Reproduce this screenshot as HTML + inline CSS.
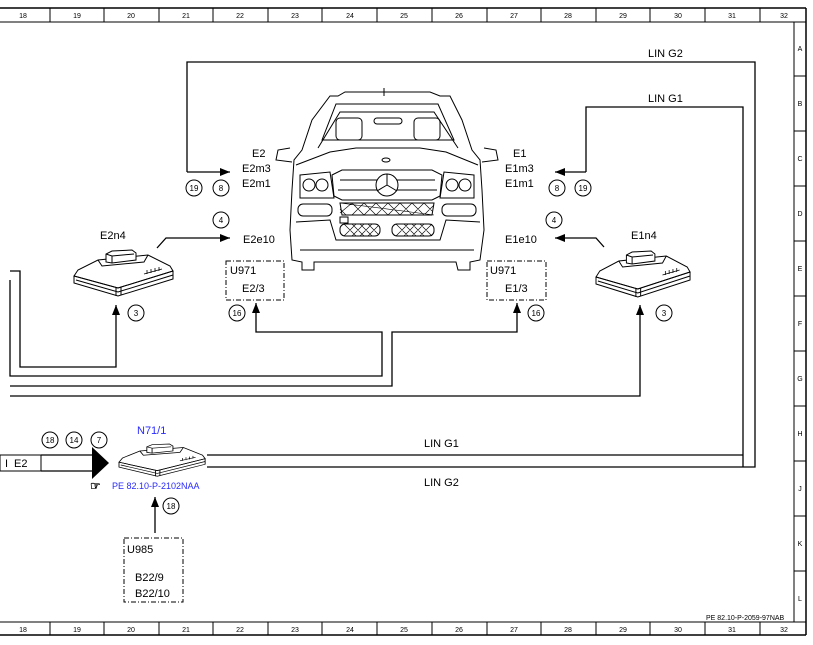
<!DOCTYPE html>
<html><head><meta charset="utf-8"><style>
html,body{margin:0;padding:0;background:#fff}
svg{display:block}
text{font-family:"Liberation Sans",sans-serif}
</style></head><body>
<svg width="813" height="645" viewBox="0 0 813 645" xmlns="http://www.w3.org/2000/svg">
<defs>
<g id="mod" fill="#fff" stroke="#000" stroke-width="1">
<path d="M0,26 L0,33 L44,46 L99,29 L99,21 Z"/>
<path d="M0,26 L4,20 L24,10 L74,5 L96,16 L99,21 L44,38 Z"/>
<path d="M0,26 L44,38 L99,21 M2,30 L44,42 L99,25" fill="none"/>
<path d="M24,10 L28,16 L70,12 L74,5" fill="none"/>
<path d="M32,12 L32,4 L38,1 L58,0 L62,3 L62,10 L38,13 Z"/>
<path d="M32,4 L38,6 L60,4 M38,6 L38,13" fill="none"/>
<path d="M42,38 L42,46 M47,37 L47,45" fill="none"/>
<path d="M70,24 L88,19 M73,20 L73,24 M77,19 L77,23 M81,18 L81,22 M85,17 L85,21" fill="none" stroke-width="0.8"/>
</g>
<marker id="ah" markerWidth="10" markerHeight="8" refX="10" refY="4" orient="auto" markerUnits="userSpaceOnUse"><path d="M0,0 L10,4 L0,8 Z" fill="#000"/></marker>
</defs>

<g stroke="#000" fill="none">
<line x1="0" y1="8" x2="806" y2="8" stroke-width="1.5"/>
<line x1="0" y1="22" x2="806" y2="22"/>
<line x1="0" y1="622" x2="806" y2="622"/>
<line x1="0" y1="635" x2="806" y2="635" stroke-width="1.5"/>
<line x1="806" y1="8" x2="806" y2="635" stroke-width="1.5"/>
<line x1="794" y1="22" x2="794" y2="622"/>
</g>
<g stroke="#000" stroke-width="1">
<line x1="50" y1="8" x2="50" y2="22"/><line x1="104" y1="8" x2="104" y2="22"/><line x1="159" y1="8" x2="159" y2="22"/><line x1="213" y1="8" x2="213" y2="22"/><line x1="268" y1="8" x2="268" y2="22"/><line x1="322" y1="8" x2="322" y2="22"/><line x1="377" y1="8" x2="377" y2="22"/><line x1="432" y1="8" x2="432" y2="22"/><line x1="487" y1="8" x2="487" y2="22"/><line x1="541" y1="8" x2="541" y2="22"/><line x1="596" y1="8" x2="596" y2="22"/><line x1="650" y1="8" x2="650" y2="22"/><line x1="705" y1="8" x2="705" y2="22"/><line x1="760" y1="8" x2="760" y2="22"/>
<line x1="50" y1="622" x2="50" y2="635"/><line x1="104" y1="622" x2="104" y2="635"/><line x1="159" y1="622" x2="159" y2="635"/><line x1="213" y1="622" x2="213" y2="635"/><line x1="268" y1="622" x2="268" y2="635"/><line x1="322" y1="622" x2="322" y2="635"/><line x1="377" y1="622" x2="377" y2="635"/><line x1="432" y1="622" x2="432" y2="635"/><line x1="487" y1="622" x2="487" y2="635"/><line x1="541" y1="622" x2="541" y2="635"/><line x1="596" y1="622" x2="596" y2="635"/><line x1="650" y1="622" x2="650" y2="635"/><line x1="705" y1="622" x2="705" y2="635"/><line x1="760" y1="622" x2="760" y2="635"/>
<line x1="794" y1="76" x2="806" y2="76"/><line x1="794" y1="131" x2="806" y2="131"/><line x1="794" y1="186" x2="806" y2="186"/><line x1="794" y1="241" x2="806" y2="241"/><line x1="794" y1="296" x2="806" y2="296"/><line x1="794" y1="351" x2="806" y2="351"/><line x1="794" y1="406" x2="806" y2="406"/><line x1="794" y1="461" x2="806" y2="461"/><line x1="794" y1="516" x2="806" y2="516"/><line x1="794" y1="571" x2="806" y2="571"/>
</g>
<g font-size="7" text-anchor="middle" fill="#000">
<text x="23" y="18">18</text><text x="77" y="18">19</text><text x="131" y="18">20</text><text x="186" y="18">21</text><text x="240" y="18">22</text><text x="295" y="18">23</text><text x="350" y="18">24</text><text x="404" y="18">25</text><text x="459" y="18">26</text><text x="514" y="18">27</text><text x="568" y="18">28</text><text x="623" y="18">29</text><text x="678" y="18">30</text><text x="732" y="18">31</text><text x="784" y="18">32</text>
<text x="23" y="632">18</text><text x="77" y="632">19</text><text x="131" y="632">20</text><text x="186" y="632">21</text><text x="240" y="632">22</text><text x="295" y="632">23</text><text x="350" y="632">24</text><text x="404" y="632">25</text><text x="459" y="632">26</text><text x="514" y="632">27</text><text x="568" y="632">28</text><text x="623" y="632">29</text><text x="678" y="632">30</text><text x="732" y="632">31</text><text x="784" y="632">32</text>
<text x="800" y="51">A</text><text x="800" y="106">B</text><text x="800" y="161">C</text><text x="800" y="216">D</text><text x="800" y="271">E</text><text x="800" y="326">F</text><text x="800" y="381">G</text><text x="800" y="436">H</text><text x="800" y="491">J</text><text x="800" y="546">K</text><text x="800" y="601">L</text>
</g>
<text x="706" y="620" font-size="7">PE 82.10-P-2059-97NAB</text>

<g stroke="#000" stroke-width="1.3" fill="none">
<polyline points="187,172 187,62 755,62 755,467 207,467"/>
<polyline points="743,467 743,107 586,107 586,172"/>
<line x1="207" y1="455" x2="743" y2="455"/>
<line x1="187" y1="172" x2="230" y2="172" marker-end="url(#ah)"/>
<line x1="586" y1="172" x2="555" y2="172" marker-end="url(#ah)"/>
<polyline points="157,248 166,238 230,238" marker-end="url(#ah)"/>
<polyline points="604,247 596,238 555,238" marker-end="url(#ah)"/>
<polyline points="10,271 20,271 20,367 116,367 116,305" marker-end="url(#ah)"/>
<polyline points="10,280 10,376 382,376 382,332 256,332 256,303" marker-end="url(#ah)"/>
<polyline points="10,386 392,386 392,332 517,332 517,303" marker-end="url(#ah)"/>
<polyline points="10,396 640,396 640,305" marker-end="url(#ah)"/>
<line x1="155" y1="533" x2="155" y2="497" marker-end="url(#ah)"/>
<rect x="0" y="455" width="41" height="16" stroke-width="1"/>
<line x1="41" y1="455" x2="95" y2="455"/><line x1="41" y1="471" x2="95" y2="471"/>
</g>
<path d="M92,447 L109,463 L92,479 Z" fill="#000"/>

<g stroke="#000" fill="none" stroke-width="1" stroke-dasharray="5,2,1,2">
<rect x="226" y="261" width="58" height="39"/>
<rect x="487" y="261" width="59" height="39"/>
<rect x="124" y="538" width="59" height="64"/>
</g>

<use href="#mod" transform="translate(74,250)"/>
<use href="#mod" transform="translate(596,251) scale(0.95,1)"/>
<use href="#mod" transform="translate(119,444) scale(0.87,0.7)"/>

<g stroke="#000" fill="none" stroke-width="1">
<path d="M330,96 L338,96 L345,92 L430,92 L440,96 L450,96 L462,120 L472,150 L480,160 L482,190 L484,230 L480,260 L470,262 L470,270 L458,270 L456,262 L314,262 L314,270 L302,270 L302,262 L292,260 L290,230 L292,190 L294,160 L302,150 L312,120 Z"/>
<path d="M322,140 L336,104 L438,104 L454,140 Z"/>
<path d="M318,148 L340,112 L434,112 L458,148"/>
<path d="M296,165 L330,152 L356,148 L420,148 L446,152 L478,165"/>
<rect x="336" y="118" width="26" height="22" rx="4"/><rect x="414" y="118" width="26" height="22" rx="4"/>
<rect x="374" y="118" width="28" height="6" rx="3"/>
<line x1="384" y1="88" x2="384" y2="96"/>
<path d="M290,148 L278,150 L276,160 L292,162"/><path d="M484,148 L496,150 L498,160 L482,162"/>
<circle cx="309" cy="185" r="6"/><circle cx="322" cy="185" r="6"/>
<circle cx="452" cy="185" r="6"/><circle cx="465" cy="185" r="6"/>
<path d="M300,175 L330,172 L334,198 L300,198 Z"/><path d="M474,175 L444,172 L440,198 L474,198 Z"/>
<path d="M332,175 L342,170 L432,170 L442,175 L440,196 L432,200 L342,200 L334,196 Z"/>
<line x1="340" y1="180" x2="435" y2="180"/><line x1="338" y1="190" x2="437" y2="190"/>
<circle cx="387" cy="185" r="11" fill="#fff"/>
<path d="M387,174 L387,185 L377,191 M387,185 L397,191"/>
<rect x="298" y="204" width="34" height="12" rx="5"/><rect x="442" y="204" width="34" height="12" rx="5"/>
<path d="M340,203 L434,203 L432,215 L342,215 Z"/>
<path d="M340,203 L434,215 M352,203 L340,213 M364,203 L352,215 M376,203 L364,215 M388,203 L376,215 M400,203 L388,215 M412,203 L400,215 M424,203 L412,215 M434,205 L424,215 M340,209 L346,215 M352,203 L364,215 M364,203 L376,215 M376,203 L388,215 M388,203 L400,215 M400,203 L412,215 M412,203 L424,215 M424,203 L432,211" stroke-width="0.6"/>
<rect x="340" y="224" width="40" height="12" rx="5"/><rect x="392" y="224" width="42" height="12" rx="5"/>
<path d="M344,224 L356,236 M352,224 L364,236 M360,224 L372,236 M368,224 L378,234 M344,236 L356,224 M352,236 L364,224 M360,236 L372,224 M368,236 L378,226 M396,224 L408,236 M404,224 L416,236 M412,224 L424,236 M420,224 L432,236 M396,236 L408,224 M404,236 L416,224 M412,236 L424,224 M420,236 L432,224" stroke-width="0.6"/>
<rect x="340" y="217" width="8" height="6"/>
<path d="M296,222 L330,220 L336,240 L440,240 L446,220 L480,222"/>
<path d="M300,250 L474,250"/>
<ellipse cx="386" cy="160" rx="4" ry="2"/>
</g>

<g stroke="#000" fill="#fff" stroke-width="1">
<circle cx="194" cy="188" r="8"/><circle cx="221" cy="188" r="8"/><circle cx="221" cy="220" r="8"/>
<circle cx="136" cy="313" r="8"/><circle cx="237" cy="313" r="8"/>
<circle cx="557" cy="188" r="8"/><circle cx="583" cy="188" r="8"/><circle cx="554" cy="220" r="8"/>
<circle cx="536" cy="313" r="8"/><circle cx="664" cy="313" r="8"/>
<circle cx="50" cy="440" r="8"/><circle cx="74" cy="440" r="8"/><circle cx="99" cy="440" r="8"/>
<circle cx="171" cy="506" r="8"/>
</g>
<g font-size="8" text-anchor="middle" fill="#000">
<text x="194" y="191">19</text><text x="221" y="191">8</text><text x="221" y="223">4</text>
<text x="136" y="316">3</text><text x="237" y="316">16</text>
<text x="557" y="191">8</text><text x="583" y="191">19</text><text x="554" y="223">4</text>
<text x="536" y="316">16</text><text x="664" y="316">3</text>
<text x="50" y="443">18</text><text x="74" y="443">14</text><text x="99" y="443">7</text>
<text x="171" y="509">18</text>
</g>

<g font-size="11" fill="#000">
<text x="252" y="157">E2</text><text x="242" y="172">E2m3</text><text x="242" y="187">E2m1</text>
<text x="243" y="243">E2e10</text>
<text x="230" y="274">U971</text><text x="242" y="292">E2/3</text>
<text x="513" y="157">E1</text><text x="505" y="172">E1m3</text><text x="505" y="187">E1m1</text>
<text x="505" y="243">E1e10</text>
<text x="490" y="274">U971</text><text x="505" y="292">E1/3</text>
<text x="100" y="239">E2n4</text><text x="631" y="239">E1n4</text>
<text x="648" y="57">LIN G2</text><text x="648" y="102">LIN G1</text>
<text x="424" y="447">LIN G1</text><text x="424" y="486">LIN G2</text>
<text x="127" y="553">U985</text><text x="135" y="581">B22/9</text><text x="135" y="597">B22/10</text>
<text x="14" y="467">E2</text>
<text x="137" y="434" fill="#2a2aff">N71/1</text>
</g>
<text x="5" y="467" font-size="11">I</text>
<text x="90" y="490" font-size="12" font-weight="bold">☞</text>
<text x="112" y="489" font-size="9" fill="#2a2aff">PE 82.10-P-2102NAA</text>
</svg>
</body></html>
